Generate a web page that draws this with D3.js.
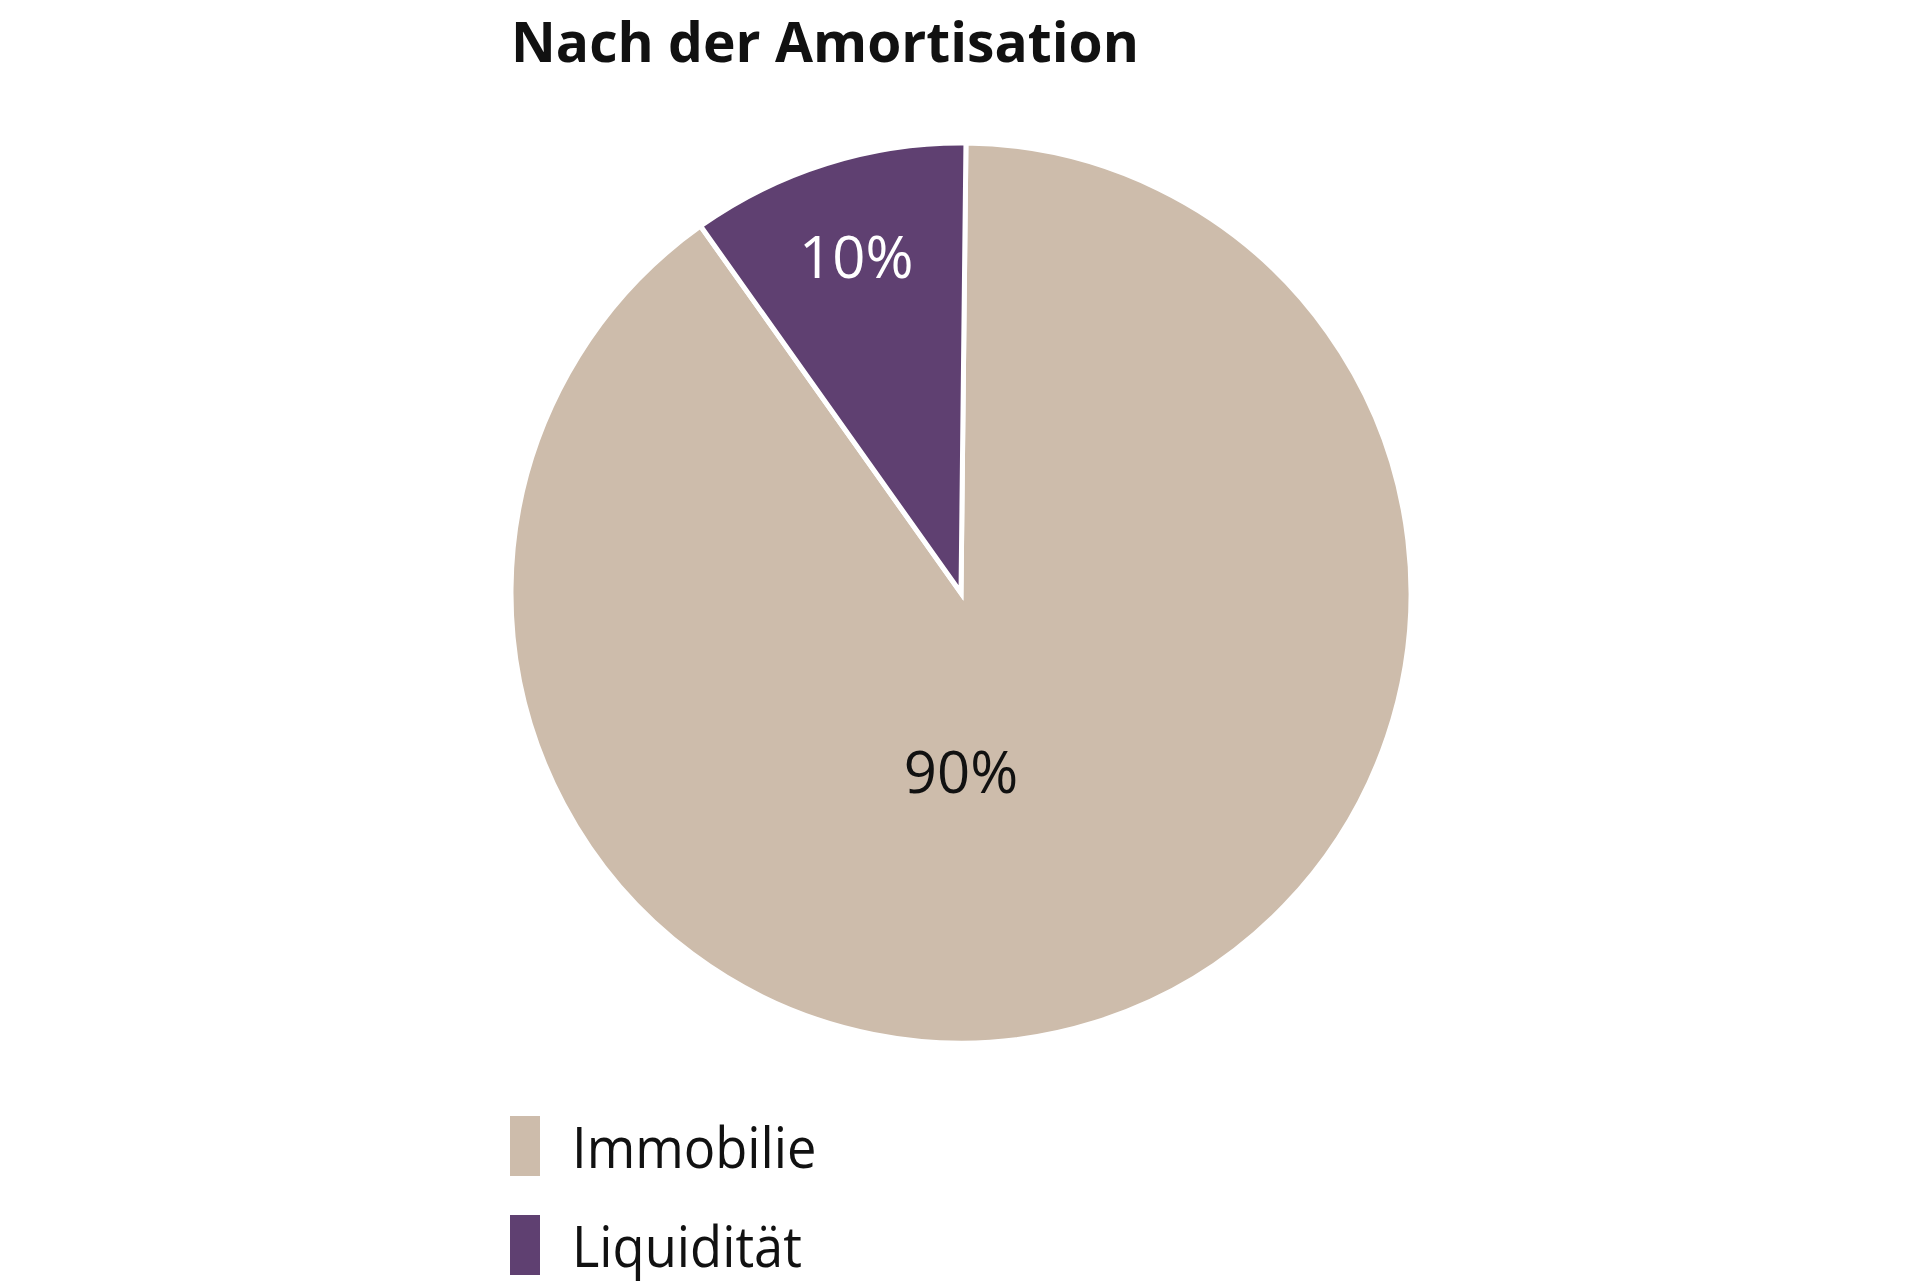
<!DOCTYPE html>
<html>
<head>
<meta charset="utf-8">
<script src="https://cdn.jsdelivr.net/npm/d3@7"></script>
<style>
  body { margin: 0; background: #fff; }
  svg { display: block; }
</style>
</head>
<body>
<div id="chart"></div>
<script>
// data
const categories = ["Immobilie", "Liquidität"];
const shares = [90, 10];
const shareLabels = ["90%", "10%"];
const colors = ["#cdbcab", "#5f4071"];
const titleText = "Nach der Amortisation";

const width = 1920, height = 1287;
const cx = 961, cy = 593, radius = 450;

let svg = d3.select("#chart")
    .append("svg")
    .attr("width", width)
    .attr("height", height);

// title (squeezed a little, the original face is narrower than Open Sans)
svg.append("text")
    .attr("x", 511)
    .attr("y", 62)
    .attr("font-family", "'Open Sans', sans-serif")
    .attr("font-weight", 700)
    .attr("font-size", 56)
    .attr("fill", "#111")
    .attr("textLength", 628)
    .attr("lengthAdjust", "spacingAndGlyphs")
    .text(titleText);

let color = d3.scaleOrdinal().domain(categories).range(colors);

// pie starts a hair right of 12 o'clock, clockwise
let pie = d3.pie()
    .sort(null)
    .startAngle(0.011)
    .endAngle(0.011 + 2 * Math.PI)
    .value(d => d.value);

let data = categories.map((c, i) => ({name: c, value: shares[i], label: shareLabels[i]}));
let arcs = pie(data);

let arc = d3.arc().innerRadius(0).outerRadius(radius);

let pieGroup = svg.append("g")
    .attr("transform", "translate(" + cx + "," + cy + ")");

pieGroup.selectAll("path")
    .data(arcs)
    .join("path")
    .attr("d", arc)
    .attr("fill", d => color(d.data.name))
    .attr("stroke", "#fff")
    .attr("stroke-width", 5)
    .attr("stroke-linejoin", "miter");

// labels: small slice at its middle angle, big one straight below the centre
pieGroup.selectAll("text")
    .data(arcs)
    .join("text")
    .attr("transform", d => {
        let big = (d.endAngle - d.startAngle) > Math.PI;
        let a = big ? Math.PI : (d.startAngle + d.endAngle) / 2;
        let r = big ? radius * 0.4 : radius * 0.78;
        return "translate(" + (Math.sin(a) * r) + "," + (-Math.cos(a) * r) + ")";
    })
    .attr("text-anchor", "middle")
    .attr("dy", "0.35em")
    .attr("font-family", "'Open Sans', sans-serif")
    .attr("font-size", 58)
    .attr("fill", (d, i) => i === 0 ? "#111" : "#fff")
    .text(d => d.data.label);

// legend
let legend = svg.append("g")
    .attr("transform", "translate(510,1116)");

let items = legend.selectAll("g")
    .data(categories)
    .join("g")
    .attr("transform", (d, i) => "translate(0," + (i * 99) + ")");

items.append("rect")
    .attr("width", 30)
    .attr("height", 60)
    .attr("fill", d => color(d));

items.append("text")
    .attr("x", 62)
    .attr("y", 52)
    .attr("font-family", "'Open Sans', sans-serif")
    .attr("font-size", 57)
    .attr("fill", "#111")
    .text(d => d)
    .each(function() {
        // narrow the legend words to the width of the original face
        let w = this.getComputedTextLength();
        d3.select(this).attr("textLength", w * 0.92).attr("lengthAdjust", "spacingAndGlyphs");
    });
</script>
</body>
</html>
